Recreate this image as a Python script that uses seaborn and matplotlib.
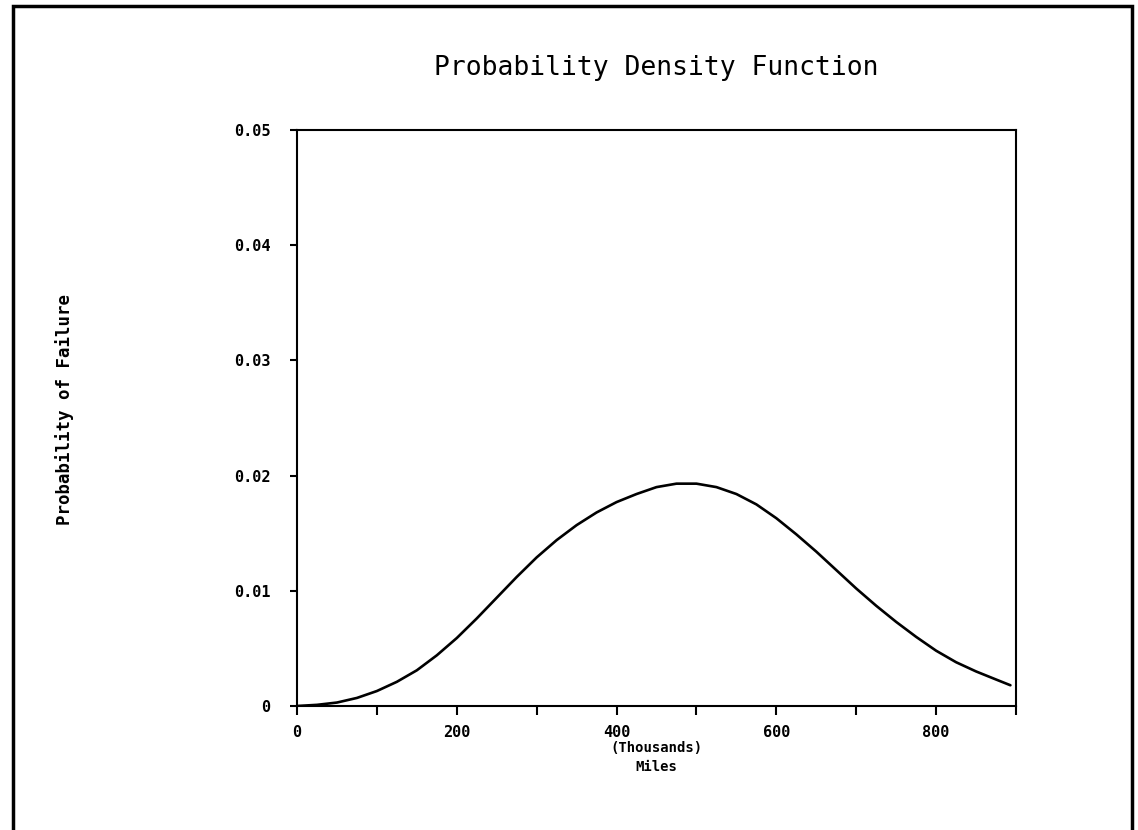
import matplotlib
matplotlib.use("Agg")
import matplotlib.pyplot as plt
from matplotlib.patches import Rectangle
from matplotlib.ticker import FixedLocator, FuncFormatter
import seaborn as sns
import pandas as pd

miles_thousands = [0, 25, 50, 75, 100, 125, 150, 175, 200, 225, 250, 275, 300,
                   325, 350, 375, 400, 425, 450, 475, 500, 525, 550, 575, 600,
                   625, 650, 675, 700, 725, 750, 775, 800, 825, 850, 875, 893]
prob_failure = [0.0, 0.0001, 0.0003, 0.0007, 0.0013, 0.0021, 0.0031, 0.0044,
                0.0059, 0.0076, 0.0094, 0.0112, 0.0129, 0.0144, 0.0157, 0.0168,
                0.0177, 0.0184, 0.0190, 0.0193, 0.0193, 0.0190, 0.0184, 0.0175,
                0.0163, 0.0149, 0.0134, 0.0118, 0.0102, 0.0087, 0.0073, 0.0060,
                0.0048, 0.0038, 0.0030, 0.0023, 0.0018]
major_xticks = [0, 200, 400, 600, 800]
minor_xticks = [100, 300, 500, 700, 900]
yticks = [0, 0.01, 0.02, 0.03, 0.04, 0.05]

title = "Probability Density Function"
xlabel = "(Thousands)\nMiles"
ylabel = "Probability of Failure"

df = pd.DataFrame({"miles": miles_thousands, "prob": prob_failure})

sns.set_style("white")
plt.rcParams["font.family"] = ["DejaVu Sans Mono", "DejaVu Sans"]
plt.rcParams["text.color"] = "black"
plt.rcParams["axes.labelcolor"] = "black"
plt.rcParams["xtick.color"] = "black"
plt.rcParams["ytick.color"] = "black"

fig = plt.figure(figsize=(11.38, 8.30), dpi=100)
ax = fig.add_axes([0.261, 0.1494, 0.6318, 0.694])

sns.lineplot(data=df, x="miles", y="prob", ax=ax, color="black", linewidth=1.9)

ax.set_xlim(0, 900)
ax.set_ylim(0, 0.05)
ax.xaxis.set_major_locator(FixedLocator(major_xticks))
ax.xaxis.set_minor_locator(FixedLocator(minor_xticks))
ax.yaxis.set_major_locator(FixedLocator(yticks))
ax.yaxis.set_major_formatter(FuncFormatter(lambda v, p: "0" if v == 0 else f"{v:.2f}"))

for s in ax.spines.values():
    s.set_visible(True)
    s.set_color("black")
    s.set_linewidth(1.5)

ax.tick_params(axis="x", which="both", bottom=True, top=False, direction="out",
               length=6.5, width=1.5, color="black", labelcolor="black",
               pad=7, labelsize=11)
ax.tick_params(axis="y", which="major", left=True, right=False, direction="out",
               length=5, width=1.5, color="black", labelcolor="black",
               pad=14, labelsize=11)
for lbl in ax.get_xticklabels() + ax.get_yticklabels():
    lbl.set_fontweight("bold")

ax.set_xlabel(xlabel, fontsize=10, fontweight="bold", labelpad=1, linespacing=1.45,
              color="black")
ax.set_ylabel("")
fig.text(0.057, 0.507, ylabel, rotation=90, ha="center", va="center",
         fontsize=12.5, fontweight="bold", color="black")

fig.text(0.577, 0.918, title, ha="center", va="center", fontsize=19, color="black")

fig.patches.append(Rectangle((0.0114, -0.02), 0.9833, 1.0128, transform=fig.transFigure,
                             fill=False, edgecolor="black", linewidth=2.5))

fig.savefig("out.png", dpi=100, facecolor="white")
